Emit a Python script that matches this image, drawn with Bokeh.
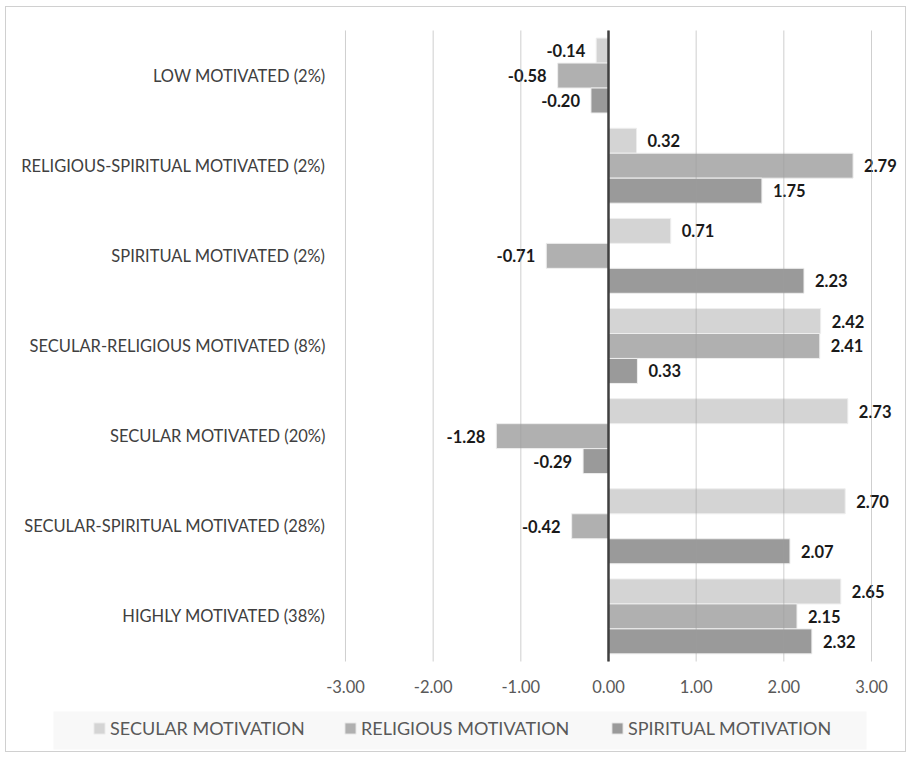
from bokeh.plotting import figure
from bokeh.models import (ColumnDataSource, Range1d, FixedTicker,
                          NumeralTickFormatter, BoxAnnotation, Legend, LegendItem)
from bokeh.transform import dodge
from bokeh.core.properties import value
from bokeh.embed import file_html
from bokeh.resources import INLINE

categories = ["LOW MOTIVATED (2%)", "RELIGIOUS-SPIRITUAL MOTIVATED (2%)",
              "SPIRITUAL MOTIVATED (2%)", "SECULAR-RELIGIOUS MOTIVATED (8%)",
              "SECULAR MOTIVATED (20%)", "SECULAR-SPIRITUAL MOTIVATED (28%)",
              "HIGHLY MOTIVATED (38%)"]
secular = [-0.14, 0.32, 0.71, 2.42, 2.73, 2.70, 2.65]
religious = [-0.58, 2.79, -0.71, 2.41, -1.28, -0.42, 2.15]
spiritual = [-0.20, 1.75, 2.23, 0.33, -0.29, 2.07, 2.32]
series_names = ["SECULAR MOTIVATION", "RELIGIOUS MOTIVATION", "SPIRITUAL MOTIVATION"]
x_ticks = [-3, -2, -1, 0, 1, 2, 3]

FONT = "Lato"
colors = ["#d4d4d4", "#b0b0b0", "#9a9a9a"]
offsets = [0.277, 0.0, -0.277]
BAR_H = 0.277

n = len(categories)
pos_y = list(range(n))[::-1]          # first category at the top
y_lo, y_hi = -0.5, n - 0.5            # plot-area band of the categories

W, H = 899, 744
p = figure(width=W, height=H, frame_width=W, frame_height=H, min_border=0,
           x_range=Range1d(-6.8668, 3.3878),
           y_range=Range1d(-1.4985, 6.755),
           output_backend="svg", toolbar_location=None,
           styles={"margin-left": "5px", "margin-top": "6px",
                   "border": "1px solid #d0d0d0"})
p.outline_line_color = None
p.background_fill_color = "white"
p.border_fill_color = "white"
p.xgrid.visible = False
p.ygrid.visible = False

renderers = []
for vals, col, off in zip([secular, religious, spiritual], colors, offsets):
    src = ColumnDataSource(dict(y=pos_y, val=vals))
    r = p.hbar(y=dodge("y", off), right="val", left=0, height=BAR_H, source=src,
               fill_color=col, line_color="#eeeeee", line_width=1)
    renderers.append(r)
    pos = [i for i, v in enumerate(vals) if v >= 0]
    neg = [i for i, v in enumerate(vals) if v < 0]
    for idx, align, xo in [(pos, "left", 11), (neg, "right", -11)]:
        if not idx:
            continue
        lsrc = ColumnDataSource(dict(y=[pos_y[i] for i in idx],
                                     val=[vals[i] for i in idx],
                                     txt=["%.2f" % vals[i] for i in idx]))
        p.text(x="val", y=dodge("y", off), text="txt", source=lsrc,
               text_align=align, text_baseline="middle", x_offset=xo,
               text_font=value(FONT), text_font_style="bold",
               text_font_size="16.5px", text_color="#1a1a1a")

# vertical gridlines over the category band (drawn above bars, as in reference)
gsrc = ColumnDataSource(dict(x=x_ticks, y0=[y_lo] * len(x_ticks), y1=[y_hi] * len(x_ticks)))
p.segment(x0="x", x1="x", y0="y0", y1="y1", source=gsrc,
          line_color="#a0a0a0", line_alpha=0.5, line_width=1)
# zero axis line
zsrc = ColumnDataSource(dict(x=[0], y0=[y_lo], y1=[y_hi]))
p.segment(x0="x", x1="x", y0="y0", y1="y1", source=zsrc,
          line_color="#404040", line_width=2.5)

# x axis, fixed at the bottom of the category band
xa = p.xaxis[0]
xa.fixed_location = y_lo
xa.ticker = FixedTicker(ticks=x_ticks)
xa.formatter = NumeralTickFormatter(format="0.00")
xa.axis_line_color = None
xa.major_tick_line_color = None
xa.minor_tick_line_color = None
xa.major_label_standoff = 13
xa.major_label_text_font = FONT
xa.major_label_text_font_size = "16.5px"
xa.major_label_text_color = "#595959"

# category axis, fixed at x = -3
ya = p.yaxis[0]
ya.fixed_location = x_ticks[0]
ya.ticker = FixedTicker(ticks=pos_y)
ya.major_label_overrides = {y: c for y, c in zip(pos_y, categories)}
ya.axis_line_color = None
ya.major_tick_line_color = None
ya.minor_tick_line_color = None
ya.major_label_standoff = 14
ya.major_label_text_font = FONT
ya.major_label_text_font_size = "16.5px"
ya.major_label_text_color = "#404040"

# legend band
p.add_layout(BoxAnnotation(left=46, right=859, top=703, bottom=741,
                           left_units="canvas", right_units="canvas",
                           top_units="canvas", bottom_units="canvas",
                           fill_color="#f8f8f8", fill_alpha=1.0,
                           line_color=None, level="underlay"))

marker_x = [86, 337, 604]
for r, name, mx in zip(renderers, series_names, marker_x):
    lg = Legend(items=[LegendItem(label=name, renderers=[r])],
                location=(mx, 12), orientation="horizontal",
                padding=0, margin=0, spacing=0, label_standoff=4,
                glyph_width=14, glyph_height=14,
                background_fill_alpha=0, border_line_color=None,
                label_text_font=FONT, label_text_font_size="18px",
                label_text_color="#595959", label_height=20)
    p.add_layout(lg, "center")

open("out.html", "w").write(file_html(p, INLINE))
